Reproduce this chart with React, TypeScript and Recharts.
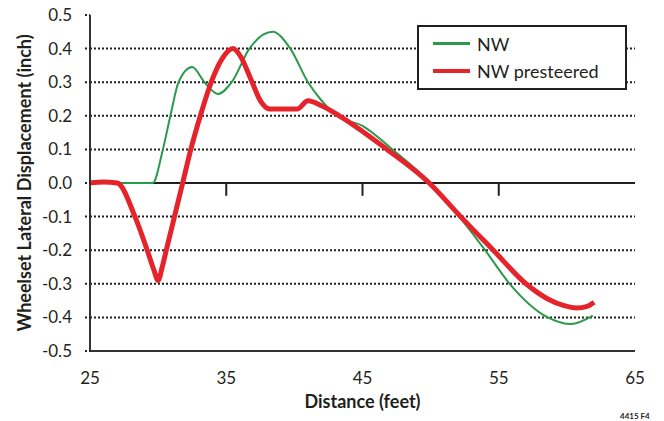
import {
  LineChart,
  Line,
  XAxis,
  YAxis,
  ReferenceLine,
  Label,
} from "recharts";

// NW (green, thin)
const nwDistance = [25, 27, 29.6, 30.35, 30.9, 31.5, 32.5, 33.4, 34.4, 35.4, 36.7, 38.4, 39.7, 41.0, 41.9, 43.1, 45.0, 47.2, 50.0, 52.1, 54.0, 55.8, 58.6, 60.3, 61.9];
const nwDisp = [0, 0, 0, 0.1, 0.2, 0.3, 0.345, 0.3, 0.265, 0.3, 0.4, 0.45, 0.4, 0.3, 0.25, 0.2, 0.17, 0.1, 0, -0.1, -0.2, -0.3, -0.4, -0.42, -0.395];

// NW presteered (red, thick)
const preDistance = [25, 26, 27, 28.3, 29.2, 29.7, 30.0, 30.3, 30.6, 31.2, 31.8, 32.4, 33.1, 33.9, 34.7, 35.5, 36.0, 36.9, 37.5, 38.2, 39.2, 40.2, 41.0, 42.0, 43.3, 46.8, 49.9, 52.2, 54.6, 57.0, 58.6, 59.8, 60.7, 61.5, 62.0];
const preDisp = [0, 0.003, 0, -0.1, -0.2, -0.26, -0.29, -0.25, -0.2, -0.1, 0, 0.1, 0.2, 0.3, 0.37, 0.4, 0.38, 0.3, 0.245, 0.22, 0.22, 0.22, 0.245, 0.23, 0.2, 0.1, 0, -0.1, -0.2, -0.3, -0.345, -0.365, -0.372, -0.367, -0.355];

const xTicks = [25, 35, 45, 55, 65];
const zeroTicks = [35, 45, 55];
const yTicks = [-0.5, -0.4, -0.3, -0.2, -0.1, 0, 0.1, 0.2, 0.3, 0.4, 0.5];
const gridValues = [-0.4, -0.3, -0.2, -0.1, 0.1, 0.2, 0.3, 0.4];

const nwData = nwDistance.map((x, i) => ({ x, y: nwDisp[i] }));
const preData = preDistance.map((x, i) => ({ x, y: preDisp[i] }));

const FONT = "Lato, 'Open Sans', sans-serif";
const INK = "#231f20";
const GREEN = "#2a9a4c";
const RED = "#e5232b";

function LegendBox() {
  const row = (color: string, width: number, label: string) => (
    <div style={{ display: "flex", alignItems: "center", height: 27 }}>
      <div style={{ width: 37, height: width, background: color, marginRight: 7 }} />
      <span>{label}</span>
    </div>
  );
  return (
    <div
      style={{
        position: "absolute",
        left: 417,
        top: 25,
        border: `2px solid ${INK}`,
        background: "#fff",
        width: 192,
        height: 58,
        padding: "3px 0 0 14px",
        fontFamily: FONT,
        fontSize: 18,
        color: INK,
        lineHeight: 1,
      }}
    >
      {row(GREEN, 3, "NW")}
      {row(RED, 4, "NW presteered")}
    </div>
  );
}

export default function App() {
  return (
    <div style={{ position: "absolute", left: 0, top: 0, width: 664, height: 421, background: "#fff" }}>
      <LineChart width={664} height={421} margin={{ top: 15, right: 29, left: 30, bottom: 40 }}>
        {gridValues.map((v) => (
          <ReferenceLine key={v} y={v} stroke={INK} strokeWidth={2} strokeDasharray="2 2" />
        ))}
        <XAxis
          dataKey="x"
          type="number"
          domain={[25, 65]}
          ticks={xTicks}
          allowDuplicatedCategory={false}
          axisLine={{ stroke: "#333", strokeWidth: 2 }}
          tickLine={false}
          tickSize={0}
          tickMargin={21}
          height={30}
          tick={{ fill: INK, fontSize: 17, fontFamily: FONT }}
        >
          <Label
            value="Distance (feet)"
            position="bottom"
            offset={14}
            style={{ fill: INK, fontSize: 18, fontWeight: 700, fontFamily: FONT }}
          />
        </XAxis>
        <XAxis
          xAxisId="top"
          orientation="top"
          type="number"
          domain={[25, 65]}
          tick={false}
          tickLine={false}
          height={0}
          axisLine={{ stroke: "#333", strokeWidth: 2 }}
        />
        <YAxis
          type="number"
          domain={[-0.5, 0.5]}
          ticks={yTicks}
          width={60}
          tickFormatter={(v: number) => v.toFixed(1)}
          axisLine={{ stroke: "#333", strokeWidth: 2 }}
          tickLine={{ stroke: INK, strokeWidth: 2, strokeDasharray: "2 2" }}
          tickSize={5}
          tickMargin={13}
          tick={{ fill: INK, fontSize: 17, fontFamily: FONT }}
        >
          <Label
            value="Wheelset Lateral Displacement (inch)"
            angle={-90}
            position="insideLeft"
            offset={-5}
            style={{ fill: INK, fontSize: 18, fontWeight: 700, fontFamily: FONT, textAnchor: "middle" }}
          />
        </YAxis>
        <YAxis
          yAxisId="right"
          orientation="right"
          type="number"
          domain={[-0.5, 0.5]}
          tick={false}
          tickLine={false}
          width={0}
          axisLine={{ stroke: "#333", strokeWidth: 2 }}
        />
        <ReferenceLine y={0} stroke={INK} strokeWidth={2} />
        {zeroTicks.map((t) => (
          <ReferenceLine
            key={t}
            segment={[
              { x: t, y: 0 },
              { x: t, y: -0.038 },
            ]}
            stroke={INK}
            strokeWidth={2}
          />
        ))}
        <Line
          data={nwData}
          dataKey="y"
          name="NW"
          type="monotone"
          stroke={GREEN}
          strokeWidth={2}
          dot={false}
          isAnimationActive={false}
        />
        <Line
          data={preData}
          dataKey="y"
          name="NW presteered"
          type="monotone"
          stroke={RED}
          strokeWidth={5}
          dot={false}
          isAnimationActive={false}
        />
      </LineChart>
      <LegendBox />
      <div
        style={{
          position: "absolute",
          left: 620,
          top: 411,
          fontFamily: FONT,
          fontSize: 8,
          fontWeight: 700,
          color: INK,
        }}
      >
        4415 F4
      </div>
    </div>
  );
}
